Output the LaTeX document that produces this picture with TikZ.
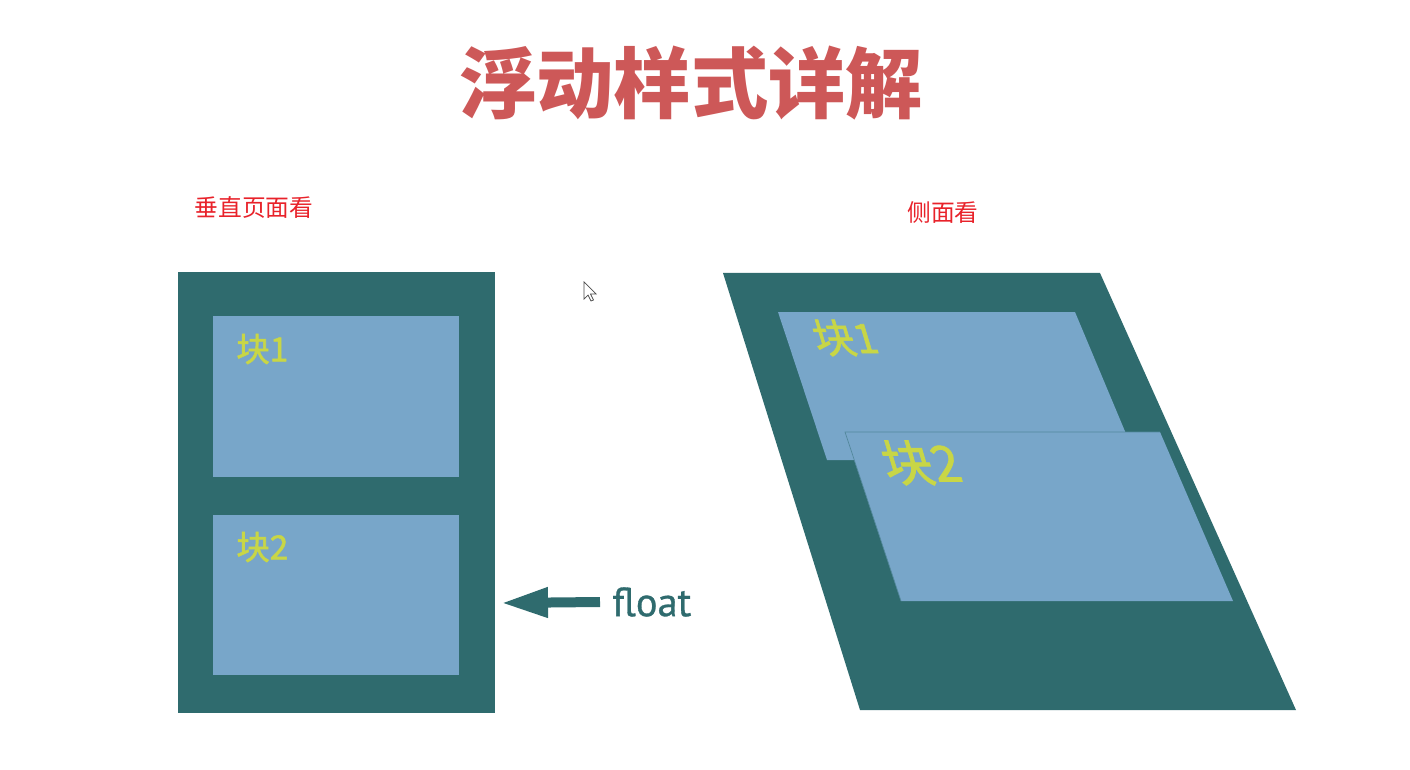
\documentclass[tikz,border=0pt]{standalone}
\usepackage{fontspec}
\newfontfamily\cjk{Noto Sans CJK SC}
\newfontfamily\cjkmid[FakeBold=1.6]{Noto Sans CJK SC}
\newfontfamily\latin[FakeBold=0.8]{PT Sans}
\usetikzlibrary{arrows.meta}
\definecolor{boxteal}{RGB}{47,107,110}
\definecolor{blockblue}{RGB}{120,166,201}
\definecolor{labelgreen}{RGB}{200,214,70}
\definecolor{titlered}{RGB}{205,88,88}
\definecolor{notered}{RGB}{232,34,42}

\begin{document}
\begin{tikzpicture}[x=0.02cm, y=-0.02cm,
        outer/.style={fill=boxteal, inner sep=0},
        block/.style={fill=blockblue, inner sep=0, minimum width=4.92cm, minimum height=3.22cm},
        blocklabel/.style={labelgreen, inner sep=0, font=\cjkmid\fontsize{19}{19}\selectfont},
        note/.style={notered, font=\cjk\fontsize{13.5}{14}\selectfont}]
        \useasboundingbox (0, 0) rectangle (1410, 770);

        \node (title) at (691, 83)[titlered, font=\cjk\bfseries\fontsize{44}{44}\selectfont] {浮动样式详解};

        \node (frontnote) at (254, 208)[note] {垂直页面看};

        \node (sidenote) at (943, 213)[note] {侧面看};

        \node (frontview) at (336.5, 492.5)[outer, minimum width=6.34cm, minimum height=8.82cm] {};

        \node (blockA) at (336, 396.5)[block] {};

        \node (blockB) at (336, 595)[block] {};

        \node (labelA) at (236, 349)[blocklabel, anchor=west] {块1};

        \node (labelB) at (236, 547)[blocklabel, anchor=west] {块2};

        \node (floatlabel) at (600, 602)[anchor=west, boxteal, inner xsep=0.24cm, inner ysep=0, font=\latin\fontsize{23}{23}\selectfont] {float};

        \coordinate (floattip) at (501, 603);

        \draw[boxteal, line width=0.2cm, -{Triangle[length=0.94cm, width=0.56cm]}] (floatlabel.west) -- (floattip);

        \draw[black!70, fill=white, line width=0.4pt] (584, 282) -- (584, 299) -- (588, 295) -- (591, 301) -- (593.5, 300) -- (590.5, 294) -- (596, 294) -- cycle;

        \fill[boxteal] (723, 273) -- (1100, 273) -- (1296, 710) -- (860, 710) -- cycle;

        \fill[blockblue] (778, 312) -- (1075, 312) -- (1137, 460) -- (827, 460) -- cycle;

        \fill[blockblue] (845, 432) -- (1160, 432) -- (1233, 601) -- (901, 601) -- cycle;

        \draw[boxteal!50!blockblue, line width=0.4pt] (901, 601) -- (845, 432) -- (1160, 432);

        \node (sideA) at (845, 338)[blocklabel, xslant=-0.3, font=\cjkmid\fontsize{23}{23}\selectfont] {块1};

        \node (sideB) at (921, 463)[blocklabel, xslant=-0.3, font=\cjkmid\fontsize{28}{28}\selectfont] {块2};
    \end{tikzpicture}
\end{document}
